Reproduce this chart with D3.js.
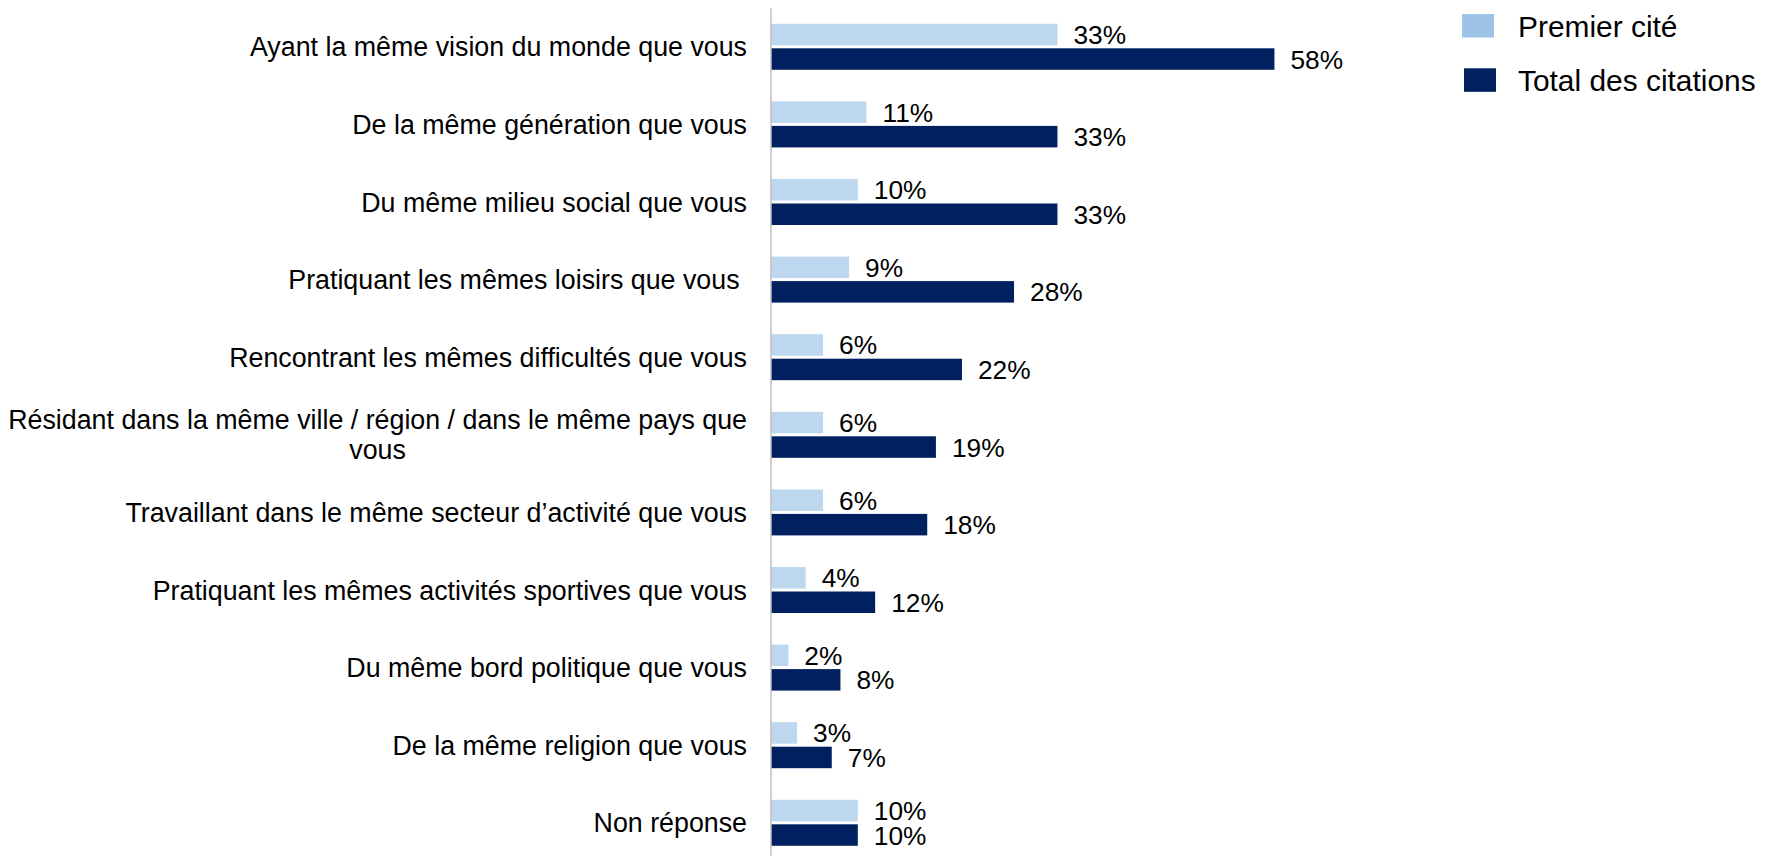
<!DOCTYPE html>
<html>
<head>
<meta charset="utf-8">
<script src="https://cdn.jsdelivr.net/npm/d3@7/dist/d3.min.js"></script>
<style>
  html, body { margin: 0; padding: 0; background: #fff; }
  svg { display: block; font-family: "Liberation Sans", Arial, sans-serif; }
</style>
</head>
<body>
<svg id="chart" width="1776" height="856"></svg>
<script>
const categories = [
  "Ayant la même vision du monde que vous",
  "De la même génération que vous",
  "Du même milieu social que vous",
  "Pratiquant les mêmes loisirs que vous ",
  "Rencontrant les mêmes difficultés que vous",
  "Résidant dans la même ville / région / dans le même pays que\nvous",
  "Travaillant dans le même secteur d’activité que vous",
  "Pratiquant les mêmes activités sportives que vous",
  "Du même bord politique que vous",
  "De la même religion que vous",
  "Non réponse"
];
const premierCite = [33, 11, 10, 9, 6, 6, 6, 4, 2, 3, 10];
const totalCitations = [58, 33, 33, 28, 22, 19, 18, 12, 8, 7, 10];
const seriesNames = ["Premier cité", "Total des citations"];

const svg = d3.select("#chart");
const W = 1776, H = 856;

const x = d3.scaleLinear().domain([0, 100]).range([771, 771 + 868]);
const y = d3.scaleBand().domain(d3.range(categories.length)).range([8, 8 + 11 * 77.6]).paddingInner(0);

const barH = 21.5, gap = 3;
const colLight = "#BDD7EE", colLegendLight = "#9DC3E6", colDark = "#002060";
const labelFont = 26.8, valueFont = 26.3, legendFont = 29.9;

// bars
const g = svg.append("g");
categories.forEach((c, i) => {
  const cy = y(i) + y.bandwidth() / 2;
  const yL = cy - gap / 2 - barH;
  const yD = cy + gap / 2;
  g.append("rect").attr("x", x(0)).attr("y", yL)
    .attr("width", x(premierCite[i]) - x(0)).attr("height", barH).attr("fill", colLight);
  g.append("rect").attr("x", x(0)).attr("y", yD)
    .attr("width", x(totalCitations[i]) - x(0)).attr("height", barH).attr("fill", colDark);
  g.append("text").attr("x", x(premierCite[i]) + 16).attr("y", yL + barH / 2)
    .attr("dy", "0.36em").attr("font-size", valueFont).attr("fill", "#000")
    .text(premierCite[i] + "%");
  g.append("text").attr("x", x(totalCitations[i]) + 16).attr("y", yD + barH / 2)
    .attr("dy", "0.36em").attr("font-size", valueFont).attr("fill", "#000")
    .text(totalCitations[i] + "%");
});

// axis line
svg.append("line").attr("x1", x(0)).attr("x2", x(0)).attr("y1", 8).attr("y2", H)
  .attr("stroke", "#BFBFBF").attr("stroke-width", 1.5);

// category labels
const labelRight = 747;
categories.forEach((c, i) => {
  const cy = y(i) + y.bandwidth() / 2;
  const lines = c.split("\n");
  if (lines.length === 1) {
    svg.append("text").attr("x", labelRight).attr("y", cy).attr("dy", "0.36em")
      .attr("text-anchor", "end").attr("font-size", labelFont).attr("fill", "#000")
      .style("white-space", "pre").text(lines[0]);
  } else {
    const t1 = svg.append("text").attr("x", labelRight).attr("y", cy - 15).attr("dy", "0.36em")
      .attr("text-anchor", "end").attr("font-size", labelFont).attr("fill", "#000").text(lines[0]);
    const w = t1.node().getComputedTextLength();
    svg.append("text").attr("x", labelRight - w / 2).attr("y", cy + 15).attr("dy", "0.36em")
      .attr("text-anchor", "middle").attr("font-size", labelFont).attr("fill", "#000").text(lines[1]);
  }
});

// legend
const legend = [
  { name: seriesNames[0], color: colLegendLight, x: 1462, y: 14 },
  { name: seriesNames[1], color: colDark, x: 1464, y: 68.3 }
];
legend.forEach(l => {
  svg.append("rect").attr("x", l.x).attr("y", l.y).attr("width", 32).attr("height", 23.5).attr("fill", l.color);
  svg.append("text").attr("x", 1518).attr("y", l.y + 11.75).attr("dy", "0.36em")
    .attr("font-size", legendFont).attr("fill", "#000").text(l.name);
});
</script>
</body>
</html>
